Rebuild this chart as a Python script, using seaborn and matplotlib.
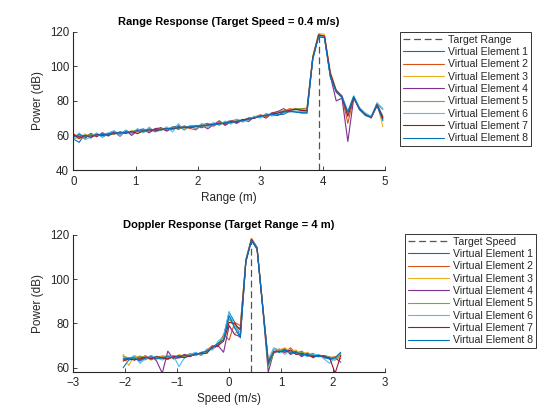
import matplotlib
matplotlib.use("Agg")
import matplotlib.pyplot as plt
import seaborn as sns

# ---------------- data ----------------
range_m = [0.000, 0.094, 0.187, 0.281, 0.375, 0.469, 0.562, 0.656, 0.750, 0.843,
           0.937, 1.031, 1.124, 1.218, 1.312, 1.406, 1.499, 1.593, 1.687, 1.780,
           1.874, 1.968, 2.061, 2.155, 2.249, 2.343, 2.436, 2.530, 2.624, 2.717,
           2.811, 2.905, 2.998, 3.092, 3.186, 3.280, 3.373, 3.467, 3.561, 3.654,
           3.748, 3.842, 3.935, 4.029, 4.123, 4.217, 4.310, 4.404, 4.498, 4.591,
           4.685, 4.779, 4.872, 4.966]

range_ve1 = [58.0, 56.0, 60.8, 58.5, 61.0, 59.0, 61.0, 62.2, 60.8, 62.8, 61.0, 63.0, 63.8, 62.2, 63.5, 64.3, 62.8, 64.8,
             65.6, 64.0, 65.5, 65.8, 64.4, 66.2, 67.0, 66.2, 67.8, 68.5, 67.3, 68.9, 70.0, 70.5, 70.4, 72.3, 71.6, 72.0,
             72.2, 74.0, 73.8, 73.0, 73.0, 104.5, 117.5, 116.5, 94.0, 85.0, 82.0, 73.5, 82.5, 75.0, 71.5, 70.5, 78.0, 71.0]
range_ve2 = [61.0, 59.0, 58.3, 60.8, 59.2, 61.5, 59.6, 62.2, 60.6, 62.8, 61.5, 63.4, 61.6, 64.0, 62.5, 64.5, 62.8, 65.0,
             63.4, 65.6, 64.0, 63.2, 66.2, 67.0, 65.3, 67.6, 66.2, 68.4, 69.2, 67.8, 70.2, 69.8, 72.0, 70.8, 73.2, 73.6,
             73.2, 75.5, 74.8, 75.2, 74.5, 105.5, 118.5, 117.5, 95.5, 85.5, 82.5, 67.0, 82.0, 75.5, 72.0, 70.0, 77.5, 70.5]
range_ve3 = [59.0, 58.0, 60.5, 60.0, 61.0, 60.0, 61.2, 60.8, 62.0, 61.0, 62.8, 62.0, 63.2, 62.5, 63.8, 62.7, 64.3, 63.5,
             64.8, 64.0, 65.5, 65.3, 66.0, 65.2, 66.8, 66.3, 67.9, 67.2, 68.6, 69.3, 68.9, 70.8, 70.5, 72.3, 72.0, 73.6,
             74.3, 74.0, 75.5, 75.2, 75.5, 106.0, 119.0, 118.5, 97.0, 86.5, 82.8, 72.0, 81.5, 76.0, 72.5, 70.8, 78.5, 65.0]
range_ve4 = [60.0, 59.5, 58.5, 61.2, 59.3, 61.5, 59.8, 62.0, 59.5, 62.8, 60.0, 63.0, 63.3, 61.5, 64.0, 64.3, 62.5, 64.2,
             65.2, 63.2, 65.3, 64.0, 66.0, 63.8, 66.2, 68.5, 65.8, 68.0, 67.0, 69.3, 68.0, 70.8, 71.5, 70.0, 72.8, 73.8,
             75.5, 73.6, 75.5, 74.5, 74.2, 105.0, 118.0, 117.0, 94.5, 80.0, 81.5, 56.5, 81.5, 75.0, 72.0, 70.5, 77.0, 69.5]
range_ve5 = [59.8, 60.2, 59.3, 60.5, 60.0, 60.8, 61.3, 60.7, 62.2, 61.4, 62.5, 62.0, 63.3, 63.6, 62.8, 64.0, 63.5, 64.8,
             64.0, 65.0, 64.5, 65.8, 65.2, 66.3, 65.8, 67.0, 67.5, 67.0, 68.5, 68.2, 69.6, 70.4, 71.5, 71.5, 72.5, 73.0,
             74.2, 74.8, 75.5, 75.5, 75.8, 105.5, 118.0, 117.0, 95.0, 86.0, 82.5, 72.5, 82.0, 76.0, 72.5, 70.5, 78.0, 75.0]
range_ve6 = [57.0, 61.5, 57.5, 59.0, 61.5, 59.0, 61.5, 62.8, 59.8, 63.2, 61.0, 64.0, 61.5, 64.8, 62.0, 63.0, 65.0, 62.0,
             66.8, 63.2, 65.8, 64.0, 67.0, 64.5, 67.5, 65.8, 68.3, 66.5, 69.5, 67.8, 69.0, 71.2, 70.0, 72.8, 71.2, 73.2,
             72.6, 75.0, 74.0, 73.8, 73.8, 104.0, 117.5, 117.0, 95.0, 86.0, 83.0, 74.0, 83.0, 76.0, 73.0, 71.0, 79.0, 75.5]
range_ve7 = [60.5, 58.3, 60.0, 59.0, 60.6, 60.0, 60.8, 61.0, 61.8, 61.2, 62.3, 61.0, 62.8, 63.2, 62.5, 63.6, 64.0, 63.7,
             64.5, 64.8, 64.4, 65.3, 65.6, 66.0, 66.5, 66.9, 67.0, 67.8, 68.0, 69.0, 69.5, 70.0, 71.2, 71.6, 72.4, 72.9,
             73.9, 74.5, 75.2, 74.5, 74.3, 105.0, 118.0, 117.5, 96.0, 86.0, 82.5, 71.0, 82.0, 75.5, 72.0, 70.5, 78.0, 70.0]
range_ve8 = [59.2, 60.5, 59.6, 59.8, 60.2, 60.6, 60.2, 61.4, 61.6, 61.8, 62.2, 62.6, 62.4, 63.3, 63.4, 63.2, 64.0, 64.2,
             64.4, 64.8, 65.0, 65.2, 65.7, 66.0, 66.2, 66.6, 67.3, 67.5, 68.3, 68.5, 69.4, 70.3, 71.0, 71.7, 72.2, 71.5,
             73.6, 73.8, 73.5, 73.2, 73.0, 104.5, 117.0, 116.5, 94.0, 85.5, 82.0, 73.5, 82.5, 75.0, 72.0, 70.5, 77.5, 68.5]

speed_mps = [-2.040, -1.933, -1.825, -1.718, -1.610, -1.503, -1.396, -1.288, -1.181, -1.073,
             -0.966, -0.859, -0.751, -0.644, -0.536, -0.429, -0.322, -0.214, -0.107, 0.000,
             0.107, 0.215, 0.322, 0.430, 0.537, 0.644, 0.752, 0.859, 0.966, 1.074,
             1.181, 1.288, 1.396, 1.503, 1.611, 1.718, 1.825, 1.933, 2.040, 2.148]

dop_ve1 = [60.0, 63.5, 64.0, 63.5, 64.5, 64.0, 65.0, 64.3, 63.8, 65.2, 64.5, 65.0, 66.0, 65.5, 67.0, 67.0, 69.5, 70.5, 74.5, 85.0,
           80.5, 74.0, 108.0, 117.5, 113.5, 88.0, 63.0, 68.5, 67.0, 68.0, 66.5, 67.5, 65.5, 66.8, 65.0, 66.0, 64.5, 64.0, 63.5, 66.5]
dop_ve2 = [65.5, 63.8, 65.0, 64.0, 65.5, 63.5, 64.8, 65.0, 64.0, 65.5, 64.8, 66.0, 65.0, 66.5, 66.0, 68.0, 70.0, 69.5, 75.0, 72.5,
           80.5, 79.0, 108.5, 118.5, 114.5, 88.5, 63.5, 67.0, 68.5, 67.0, 69.0, 66.5, 67.5, 65.5, 66.5, 65.0, 65.5, 64.5, 65.0, 64.0]
dop_ve3 = [66.0, 61.0, 65.5, 64.5, 63.5, 65.0, 64.0, 65.5, 65.0, 64.0, 66.0, 65.0, 66.5, 65.5, 67.0, 67.5, 68.5, 71.0, 72.5, 79.0,
           75.0, 78.5, 109.0, 118.5, 114.0, 89.0, 61.5, 68.5, 68.0, 69.0, 67.5, 68.0, 66.0, 67.0, 65.5, 66.0, 65.0, 64.5, 63.5, 65.5]
dop_ve4 = [63.5, 64.5, 63.5, 65.0, 63.8, 65.5, 63.0, 57.5, 67.5, 64.0, 64.5, 66.0, 65.0, 66.8, 65.5, 68.0, 68.5, 70.0, 67.0, 79.0,
           75.0, 74.0, 108.0, 118.0, 114.0, 87.5, 58.0, 67.0, 67.5, 68.5, 66.0, 67.0, 65.0, 66.5, 64.5, 65.5, 65.0, 64.0, 64.5, 62.5]
dop_ve5 = [65.0, 64.5, 64.0, 65.3, 64.5, 63.8, 65.2, 64.5, 65.5, 64.8, 65.5, 65.0, 66.3, 65.8, 66.8, 67.0, 69.5, 71.0, 73.5, 82.0,
           78.5, 78.0, 108.5, 118.0, 114.0, 88.0, 60.5, 66.5, 68.0, 67.5, 67.0, 66.5, 67.0, 66.0, 66.0, 65.0, 65.5, 65.0, 64.0, 66.0]
dop_ve6 = [64.5, 64.0, 65.5, 62.0, 64.0, 65.5, 64.5, 63.5, 64.5, 65.5, 60.5, 64.5, 66.0, 67.0, 65.5, 68.5, 68.0, 72.0, 74.0, 85.5,
           78.0, 76.0, 109.0, 118.0, 114.5, 88.5, 63.5, 69.0, 68.0, 66.0, 68.0, 66.0, 66.5, 65.0, 66.0, 66.0, 64.0, 62.0, 64.5, 66.5]
dop_ve7 = [63.0, 64.0, 63.5, 64.0, 64.8, 64.0, 65.0, 64.5, 64.0, 65.0, 65.2, 64.5, 65.5, 66.0, 66.5, 66.5, 69.5, 70.0, 72.0, 80.5,
           80.0, 77.0, 108.5, 118.0, 114.0, 88.0, 62.5, 67.0, 67.5, 67.0, 68.0, 66.0, 66.5, 65.5, 65.0, 65.5, 65.0, 64.5, 57.5, 65.5]
dop_ve8 = [64.0, 64.2, 64.5, 63.0, 64.5, 64.8, 64.0, 64.5, 65.0, 64.5, 65.3, 65.5, 65.5, 66.0, 66.8, 67.5, 69.0, 71.0, 72.5, 83.5,
           78.0, 73.5, 108.0, 117.5, 114.0, 88.0, 61.5, 67.5, 67.0, 68.0, 67.0, 67.0, 66.0, 66.0, 65.5, 65.0, 65.5, 64.0, 64.5, 67.0]

series_labels = ["Virtual Element 1", "Virtual Element 2", "Virtual Element 3", "Virtual Element 4",
                 "Virtual Element 5", "Virtual Element 6", "Virtual Element 7", "Virtual Element 8"]
target_range = 3.935
target_speed = 0.430
range_ticks = [0, 1, 2, 3, 4, 5]
range_yticks = [40, 60, 80, 100, 120]
speed_ticks = [-3, -2, -1, 0, 1, 2, 3]
speed_yticks = [60, 80, 100, 120]

# ---------------- style ----------------
sns.set_theme(style="white")
plt.rcParams["font.family"] = ["Liberation Sans", "DejaVu Sans"]
matlab_colors = [(0, 0.447, 0.741), (0.850, 0.325, 0.098), (0.929, 0.694, 0.125),
                 (0.494, 0.184, 0.556), (0.466, 0.674, 0.188), (0.301, 0.745, 0.933),
                 (0.635, 0.078, 0.184), (0, 0.447, 0.741)]
axis_color = (0.15, 0.15, 0.15)
target_color = (0.33, 0.33, 0.33)
target_dash = (0, (5.5, 3))

fig = plt.figure(figsize=(5.6, 4.2), dpi=100)
ax1 = fig.add_axes([0.1309, 0.5952, 0.5566, 0.3293])
ax2 = fig.add_axes([0.1309, 0.1150, 0.5566, 0.3255])


def style_axes(ax, xlim, ylim, xticks, yticks, xlabel, ylabel, title):
    ax.set_xlim(*xlim)
    ax.set_ylim(*ylim)
    ax.set_xticks(xticks)
    ax.set_yticks(yticks)
    ax.set_xlabel(xlabel, fontsize=8.5, color=axis_color, labelpad=3)
    ax.set_ylabel(ylabel, fontsize=8.5, color=axis_color, labelpad=4)
    ax.set_title(title, fontsize=8, fontweight="bold", color="black", pad=5)
    for s in ["top", "right"]:
        ax.spines[s].set_visible(False)
    for s in ["left", "bottom"]:
        ax.spines[s].set_color(axis_color)
        ax.spines[s].set_linewidth(0.8)
    ax.tick_params(direction="in", length=3, width=0.6, colors=axis_color,
                   labelsize=8.3, left=True, bottom=True)
    ax.tick_params(axis="x", pad=4)
    ax.tick_params(axis="y", pad=3)


def legend_for(ax, anchor):
    leg = ax.legend(loc="upper left", bbox_to_anchor=anchor, bbox_transform=fig.transFigure,
                    fontsize=7.6, frameon=True, fancybox=False, shadow=False,
                    handlelength=3.9, handletextpad=0.4, labelspacing=0.22,
                    borderpad=0.25, borderaxespad=0.0)
    leg.get_frame().set_edgecolor("black")
    leg.get_frame().set_linewidth(0.7)
    leg.get_frame().set_facecolor("white")
    for t in leg.get_texts():
        t.set_color(axis_color)


# ---------------- range response ----------------
range_series = [range_ve1, range_ve2, range_ve3, range_ve4, range_ve5, range_ve6, range_ve7, range_ve8]
range_ylim = (40, 120)
ax1.plot([target_range, target_range], [range_ylim[0], max(max(s) for s in range_series) - 1.0],
         linestyle=target_dash, color=target_color, linewidth=0.9, label="Target Range")
for vals, lab, col in zip(range_series, series_labels, matlab_colors):
    sns.lineplot(x=range_m, y=vals, ax=ax1, color=col, linewidth=0.8, label=lab,
                 estimator=None, sort=False)
style_axes(ax1, (0, 5), range_ylim, range_ticks, range_yticks, "Range (m)", "Power (dB)",
           "Range Response (Target Speed = 0.4 m/s)")
legend_for(ax1, (400 / 560, 1 - 32 / 420))

# ---------------- doppler response ----------------
dop_series = [dop_ve1, dop_ve2, dop_ve3, dop_ve4, dop_ve5, dop_ve6, dop_ve7, dop_ve8]
dop_ylim = (58.2, 120)
ax2.plot([target_speed, target_speed], [dop_ylim[0], max(max(s) for s in dop_series) - 1.0],
         linestyle=target_dash, color=target_color, linewidth=0.9, label="Target Speed")
for vals, lab, col in zip(dop_series, series_labels, matlab_colors):
    sns.lineplot(x=speed_mps, y=vals, ax=ax2, color=col, linewidth=0.8, label=lab,
                 estimator=None, sort=False)
style_axes(ax2, (-3, 3), dop_ylim, speed_ticks, speed_yticks, "Speed (m/s)", "Power (dB)",
           "Doppler Response (Target Range = 4 m)")
legend_for(ax2, (405 / 560, 1 - 234 / 420))

fig.savefig("out.png", dpi=100)
